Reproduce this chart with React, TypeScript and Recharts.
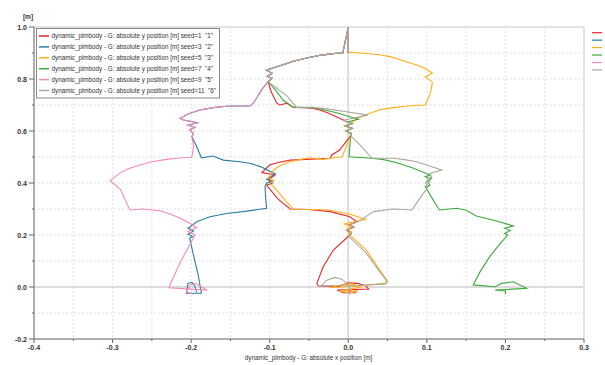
import { LineChart, Line, XAxis, YAxis, CartesianGrid, ReferenceLine } from "recharts";

type Pt = [number, number];

const X_TICKS = [-0.4, -0.35, -0.3, -0.25, -0.2, -0.15, -0.1, -0.05, 0, 0.05, 0.1, 0.15, 0.2, 0.25, 0.3];
const Y_TICKS = [-0.2, -0.1, 0, 0.1, 0.2, 0.3, 0.4, 0.5, 0.6, 0.7, 0.8, 0.9, 1.0];

// shared pieces of the walk
const START: Pt[] = [[0, 0.9], [0, 1.0], [-0.007, 0.9]];
const ARC_LEFT: Pt[] = [
  [-0.015, 0.899], [-0.034, 0.892], [-0.053, 0.881], [-0.07, 0.868], [-0.084, 0.854],
  [-0.095, 0.843], [-0.104, 0.834], [-0.097, 0.822], [-0.103, 0.81], [-0.097, 0.803], [-0.102, 0.79],
];
const ZIG_TOP: Pt[] = [[0.005, 0.628], [-0.004, 0.62], [0.005, 0.61], [-0.003, 0.6], [0.004, 0.59], [0.003, 0.582]];
const LEFT_UPPER: Pt[] = [
  [-0.11, 0.76], [-0.116, 0.73], [-0.121, 0.707], [-0.125, 0.696], [-0.14, 0.696], [-0.155, 0.695],
  [-0.172, 0.69], [-0.189, 0.681], [-0.203, 0.666], [-0.214, 0.649], [-0.21, 0.642], [-0.191, 0.632],
  [-0.204, 0.623], [-0.195, 0.614], [-0.202, 0.604], [-0.197, 0.591], [-0.199, 0.578],
];

const seed1: Pt[] = [
  ...START, ...ARC_LEFT,
  [-0.098, 0.75], [-0.091, 0.707], [-0.087, 0.7], [-0.078, 0.707], [-0.07, 0.691], [-0.057, 0.69],
  [-0.045, 0.687], [-0.035, 0.68], [-0.025, 0.668], [-0.011, 0.649], [-0.002, 0.636],
  ...ZIG_TOP,
  [-0.011, 0.527], [-0.021, 0.508], [-0.023, 0.495], [-0.047, 0.492], [-0.074, 0.488], [-0.088, 0.48],
  [-0.1, 0.469], [-0.11, 0.44], [-0.093, 0.431], [-0.102, 0.412], [-0.097, 0.399], [-0.104, 0.392],
  [-0.09, 0.34], [-0.074, 0.3], [-0.05, 0.298], [-0.023, 0.29], [0.002, 0.27], [0.011, 0.251],
  [0, 0.238], [0.006, 0.23], [-0.002, 0.219], [0.004, 0.207], [0.002, 0.2], [-0.019, 0.142],
  [-0.032, 0.078], [-0.04, 0.014], [-0.038, 0.004], [-0.012, 0.002], [0.0, 0.016], [0.012, 0.014],
  [0.022, 0.005], [0.026, -0.008], [0.005, -0.01], [-0.014, -0.012], [-0.006, -0.022], [0.01, -0.022], [0.0, -0.015],
];

const seed3: Pt[] = [
  ...START, ...ARC_LEFT, ...LEFT_UPPER,
  [-0.193, 0.54], [-0.187, 0.497], [-0.172, 0.504], [-0.159, 0.488], [-0.138, 0.482], [-0.124, 0.475],
  [-0.112, 0.463], [-0.093, 0.435], [-0.104, 0.414], [-0.095, 0.405], [-0.104, 0.4], [-0.106, 0.385],
  [-0.105, 0.34], [-0.104, 0.303], [-0.117, 0.297], [-0.134, 0.29], [-0.155, 0.283], [-0.176, 0.27],
  [-0.193, 0.251], [-0.201, 0.232], [-0.204, 0.226], [-0.197, 0.215], [-0.204, 0.203], [-0.198, 0.194],
  [-0.202, 0.187], [-0.197, 0.123], [-0.191, 0.046], [-0.187, -0.024], [-0.206, -0.024], [-0.204, 0.014],
  [-0.199, 0.018], [-0.195, 0.001], [-0.193, -0.02],
];

const seed5: Pt[] = [
  [0, 1.0], [0, 0.9], [0.002, 0.903], [0.02, 0.899], [0.04, 0.893], [0.053, 0.886], [0.07, 0.87],
  [0.087, 0.854], [0.098, 0.84], [0.107, 0.822], [0.098, 0.808], [0.107, 0.788], [0.105, 0.75],
  [0.098, 0.7], [0.074, 0.696], [0.053, 0.688], [0.04, 0.682], [0.028, 0.668], [0.011, 0.649], [0.004, 0.63],
  ...ZIG_TOP,
  [-0.006, 0.514], [-0.008, 0.501], [-0.023, 0.495], [-0.032, 0.491], [-0.049, 0.497], [-0.062, 0.49],
  [-0.074, 0.482], [-0.086, 0.468], [-0.095, 0.45], [-0.102, 0.418], [-0.095, 0.41], [-0.1, 0.398],
  [-0.095, 0.386], [-0.082, 0.34], [-0.07, 0.299], [-0.045, 0.298], [-0.025, 0.296], [0.002, 0.28],
  [0.023, 0.26], [0.008, 0.252], [-0.006, 0.242], [0.005, 0.233], [-0.002, 0.222], [0.004, 0.212],
  [0.0, 0.205], [0.023, 0.142], [0.04, 0.065], [0.049, 0.027], [0.047, 0.014], [0.01, 0.003],
  [-0.023, -0.003], [-0.01, 0.008], [0.005, 0.012], [0.015, 0.0], [0.0, -0.01], [-0.012, -0.016],
  [0.005, -0.022], [0.012, -0.014], [0.0, -0.02],
];

const seed7: Pt[] = [
  ...START, ...ARC_LEFT,
  [-0.092, 0.755], [-0.083, 0.719], [-0.07, 0.691], [-0.045, 0.691], [-0.03, 0.681], [-0.015, 0.67],
  [0.013, 0.645], [0.0, 0.636],
  ...ZIG_TOP,
  [0.001, 0.501], [0.03, 0.495], [0.045, 0.49], [0.062, 0.478], [0.083, 0.457], [0.104, 0.431],
  [0.098, 0.424], [0.106, 0.418], [0.1, 0.405], [0.104, 0.392], [0.098, 0.386], [0.107, 0.34],
  [0.116, 0.296], [0.138, 0.303], [0.15, 0.295], [0.163, 0.273], [0.184, 0.258], [0.21, 0.235],
  [0.199, 0.226], [0.206, 0.217], [0.199, 0.206], [0.203, 0.2], [0.194, 0.17], [0.18, 0.117],
  [0.168, 0.06], [0.159, 0.008], [0.187, 0.001], [0.195, 0.014], [0.21, 0.02], [0.227, -0.005],
  [0.187, -0.012], [0.2, -0.015], [0.2, -0.027],
];

const seed9: Pt[] = [
  ...START, ...ARC_LEFT, ...LEFT_UPPER,
  [-0.197, 0.54], [-0.199, 0.499], [-0.215, 0.496], [-0.231, 0.491], [-0.25, 0.482], [-0.265, 0.469],
  [-0.279, 0.456], [-0.29, 0.44], [-0.303, 0.409], [-0.29, 0.376], [-0.284, 0.336], [-0.278, 0.296],
  [-0.261, 0.3], [-0.24, 0.293], [-0.226, 0.28], [-0.214, 0.264], [-0.202, 0.245], [-0.193, 0.228],
  [-0.204, 0.213], [-0.195, 0.2], [-0.213, 0.1], [-0.227, 0.008], [-0.228, -0.003], [-0.18, -0.012],
  [-0.187, 0.001], [-0.195, 0.014], [-0.201, 0.008], [-0.206, -0.018], [-0.197, -0.028],
];

const seed11: Pt[] = [
  ...START, ...ARC_LEFT,
  [-0.09, 0.762], [-0.078, 0.735], [-0.066, 0.691], [-0.05, 0.69], [-0.032, 0.687], [0.002, 0.672],
  [0.025, 0.661], [-0.006, 0.642],
  ...ZIG_TOP,
  [0.017, 0.54], [0.03, 0.495], [0.057, 0.495], [0.072, 0.49], [0.087, 0.482], [0.119, 0.45],
  [0.104, 0.437], [0.106, 0.424], [0.1, 0.418], [0.104, 0.405], [0.098, 0.4], [0.102, 0.386],
  [0.091, 0.341], [0.081, 0.296], [0.057, 0.3], [0.032, 0.29], [0.019, 0.264], [0.011, 0.25],
  [0.002, 0.24], [0.008, 0.23], [-0.001, 0.22], [0.004, 0.207], [0.0, 0.197], [0.023, 0.13],
  [0.04, 0.059], [0.05, 0.02], [0.047, 0.012], [0.01, 0.006], [-0.034, 0.005], [-0.028, 0.025],
  [-0.017, 0.037], [-0.008, 0.03], [-0.002, 0.014], [0.002, -0.005], [0.002, -0.028],
];

const SERIES = [
  { name: 'dynamic_plmbody - G: absolute y position [m] seed=1  "1"', color: "#e8262b", pts: seed1 },
  { name: 'dynamic_plmbody - G: absolute y position [m] seed=3  "2"', color: "#2b7ea1", pts: seed3 },
  { name: 'dynamic_plmbody - G: absolute y position [m] seed=5  "3"', color: "#ffae1a", pts: seed5 },
  { name: 'dynamic_plmbody - G: absolute y position [m] seed=7  "4"', color: "#3cab3c", pts: seed7 },
  { name: 'dynamic_plmbody - G: absolute y position [m] seed=9  "5"', color: "#f28ab6", pts: seed9 },
  { name: 'dynamic_plmbody - G: absolute y position [m] seed=11  "6"', color: "#a9a89b", pts: seed11 },
];

const FONT = "'Liberation Sans', Arial, sans-serif";

function XTick(props: any) {
  const { x, y, payload } = props;
  const v = payload.value as number;
  const major = Math.abs(Math.round(v * 100)) % 10 === 0;
  return (
    <g>
      <line x1={x} x2={x} y1={y} y2={y + (major ? 4 : 2)} stroke="#666" />
      {major && (
        <text x={x} y={y + 11} textAnchor="middle" fontSize={7} fontWeight="bold" fontFamily={FONT} fill="#333">
          {v.toFixed(1)}
        </text>
      )}
    </g>
  );
}

function YTick(props: any) {
  const { x, y, payload } = props;
  const v = payload.value as number;
  const major = Math.abs(Math.round(v * 10)) % 2 === 0;
  return (
    <g>
      <line x1={x - (major ? 5 : 2)} x2={x} y1={y} y2={y} stroke="#666" />
      {major && (
        <text x={x - 7} y={y + 2.5} textAnchor="end" fontSize={7} fontWeight="bold" fontFamily={FONT} fill="#333">
          {v.toFixed(1)}
        </text>
      )}
    </g>
  );
}

export default function App() {
  return (
    <div style={{ position: "absolute", left: 0, top: 0, width: 605, height: 365, background: "#fff" }}>
      <LineChart width={605} height={365} margin={{ top: 27, right: 21, bottom: 0, left: 0 }}>
        <CartesianGrid stroke="#e2e2e2" strokeDasharray="2 2" />
        <ReferenceLine x={0} stroke="#d6d6d6" strokeWidth={1.5} />
        <ReferenceLine y={0} stroke="#dcdcdc" strokeWidth={2} />
        <ReferenceLine y={1.0} stroke="#e3e3e3" strokeWidth={2} />
        <ReferenceLine x={0.3} stroke="#e3e3e3" strokeWidth={2} />
        <XAxis
          type="number"
          dataKey="x"
          domain={[-0.4, 0.3]}
          ticks={X_TICKS}
          interval={0}
          height={26}
          tickSize={0}
          tickMargin={0}
          tickLine={false}
          stroke="#666"
          tick={<XTick />}
          allowDataOverflow
        />
        <YAxis
          type="number"
          domain={[-0.2, 1.0]}
          ticks={Y_TICKS}
          interval={0}
          width={34}
          tickSize={0}
          tickMargin={0}
          tickLine={false}
          stroke="#666"
          tick={<YTick />}
          allowDataOverflow
        />
        {SERIES.map((s) => (
          <Line
            key={s.name}
            data={s.pts.map(([x, y]) => ({ x, y }))}
            dataKey="y"
            type="linear"
            stroke={s.color}
            strokeWidth={1.1}
            dot={false}
            activeDot={false}
            isAnimationActive={false}
          />
        ))}
      </LineChart>
      <svg width={605} height={365} style={{ position: "absolute", left: 0, top: 0, pointerEvents: "none" }}>
        <text x={28} y={19} textAnchor="middle" fontSize={6.5} fontWeight="bold" fontFamily={FONT} fill="#333">
          [m]
        </text>
        <text x={308.5} y={360} textAnchor="middle" fontSize={6.3} fontFamily={FONT} fill="#333">
          dynamic_plmbody - G: absolute x position [m]
        </text>
        <rect x={36.5} y={28.5} width={183} height={69.5} fill="#fff" stroke="#8a8a8a" />
        {SERIES.map((s, i) => {
          const y = 36 + i * 10.9;
          return (
            <g key={s.name}>
              <line x1={39} x2={49} y1={y} y2={y} stroke={s.color} strokeWidth={1.5} />
              <text x={51.5} y={y + 2.2} fontSize={6.3} fontFamily={FONT} fill="#333" style={{ whiteSpace: "pre" }}>
                {s.name}
              </text>
            </g>
          );
        })}
        {SERIES.map((s, i) => (
          <line key={"r" + i} x1={592} x2={602} y1={32.7 + i * 7.45} y2={32.7 + i * 7.45} stroke={s.color} strokeWidth={1.2} />
        ))}
      </svg>
    </div>
  );
}
